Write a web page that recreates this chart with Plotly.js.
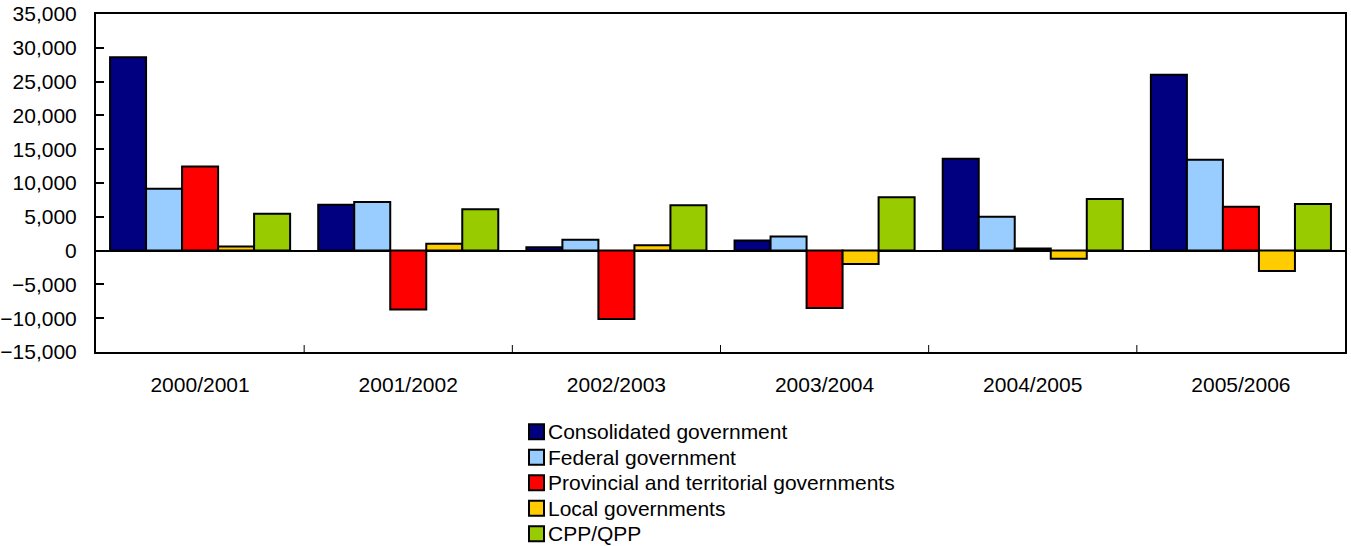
<!DOCTYPE html>
<html>
<head>
<meta charset="utf-8">
<script src="https://cdn.plot.ly/plotly-3.0.1.min.js"></script>
<style>
  html, body { margin: 0; padding: 0; background: #fff; }
  #chart { width: 1351px; height: 546px; }
</style>
</head>
<body>
<div id="chart"></div>
<script>
// Fiscal years shown on the category axis
const years = ['2000/2001', '2001/2002', '2002/2003', '2003/2004', '2004/2005', '2005/2006'];

// Balances by level of government (millions of dollars)
const consolidated = [28600, 6800, 500, 1500, 13600, 26000];
const federal      = [9150, 7200, 1600, 2100, 5000, 13450];
const provincial   = [12450, -8700, -10100, -8500, 300, 6500];
const local        = [600, 1000, 800, -2000, -1200, -3000];
const cppQpp       = [5450, 6100, 6700, 7900, 7650, 6900];

const seriesNames  = ['Consolidated government', 'Federal government',
                      'Provincial and territorial governments', 'Local governments', 'CPP/QPP'];
const seriesValues = [consolidated, federal, provincial, local, cppQpp];
const seriesColors = ['#000080', '#99CCFF', '#FF0000', '#FFCC00', '#99CC00'];

const W = 1351, H = 546;
const M = { l: 96, r: 6, t: 14, b: 194 };
const plotW = W - M.l - M.r, plotH = H - M.t - M.b;
// convert page pixels to paper fractions (for the hand-laid legend)
const px = x => (x - M.l) / plotW;
const py = y => (H - M.b - y) / plotH;

const traces = seriesNames.map((name, i) => ({
  type: 'bar',
  name: name,
  x: years,
  y: seriesValues[i],
  marker: { color: seriesColors[i], line: { color: '#000', width: 2 } },
  showlegend: false
}));

const fontFamily = 'Liberation Sans, Arial, sans-serif';
const font = { family: fontFamily, size: 21, color: '#000' };

// legend: a boxed swatch and a label for each series, stacked below the plot
const legendTop = 431.7, legendStep = 25.5, swatchLeft = 529, swatchSize = 15;
const legendShapes = [];
const legendNotes = [];
seriesNames.forEach((name, i) => {
  const cy = legendTop + i * legendStep;
  legendShapes.push({
    type: 'rect', xref: 'paper', yref: 'paper',
    x0: px(swatchLeft), x1: px(swatchLeft + swatchSize),
    y0: py(cy - swatchSize / 2), y1: py(cy + swatchSize / 2),
    fillcolor: seriesColors[i], line: { color: '#000', width: 2 }
  });
  legendNotes.push({
    xref: 'paper', yref: 'paper',
    x: px(swatchLeft + swatchSize + 3), y: py(cy),
    xanchor: 'left', yanchor: 'middle',
    text: name, showarrow: false, font: font, borderpad: 0
  });
});

// small separators standing on the category axis between the year groups
const separators = years.slice(1).map((_, i) => ({
  type: 'line', xref: 'x', yref: 'paper',
  x0: i + 0.5, x1: i + 0.5, y0: 0, y1: 7 / plotH,
  line: { color: '#000', width: 1 }
}));

const layout = {
  width: W,
  height: H,
  margin: { l: M.l, r: M.r, t: M.t, b: M.b, autoexpand: false },
  paper_bgcolor: '#fff',
  plot_bgcolor: '#fff',
  font: font,
  barmode: 'group',
  bargap: 0.135,
  bargroupgap: 0,
  showlegend: false,
  xaxis: {
    type: 'category',
    showline: true, linecolor: '#000', linewidth: 2, mirror: true,
    ticks: '', showgrid: false, zeroline: false,
    tickfont: font,
    ticklabelstandoff: 13
  },
  yaxis: {
    range: [-15000, 35000],
    dtick: 5000,
    tickformat: ',d',
    showline: true, linecolor: '#000', linewidth: 2, mirror: true,
    ticks: 'inside', ticklen: 8, tickwidth: 2, tickcolor: '#000',
    showgrid: false,
    zeroline: true, zerolinecolor: '#000', zerolinewidth: 2,
    tickfont: font,
    ticklabelstandoff: 13
  },
  shapes: separators.concat(legendShapes),
  annotations: legendNotes
};

Plotly.newPlot('chart', traces, layout, { displayModeBar: false, staticPlot: true });
</script>
</body>
</html>
